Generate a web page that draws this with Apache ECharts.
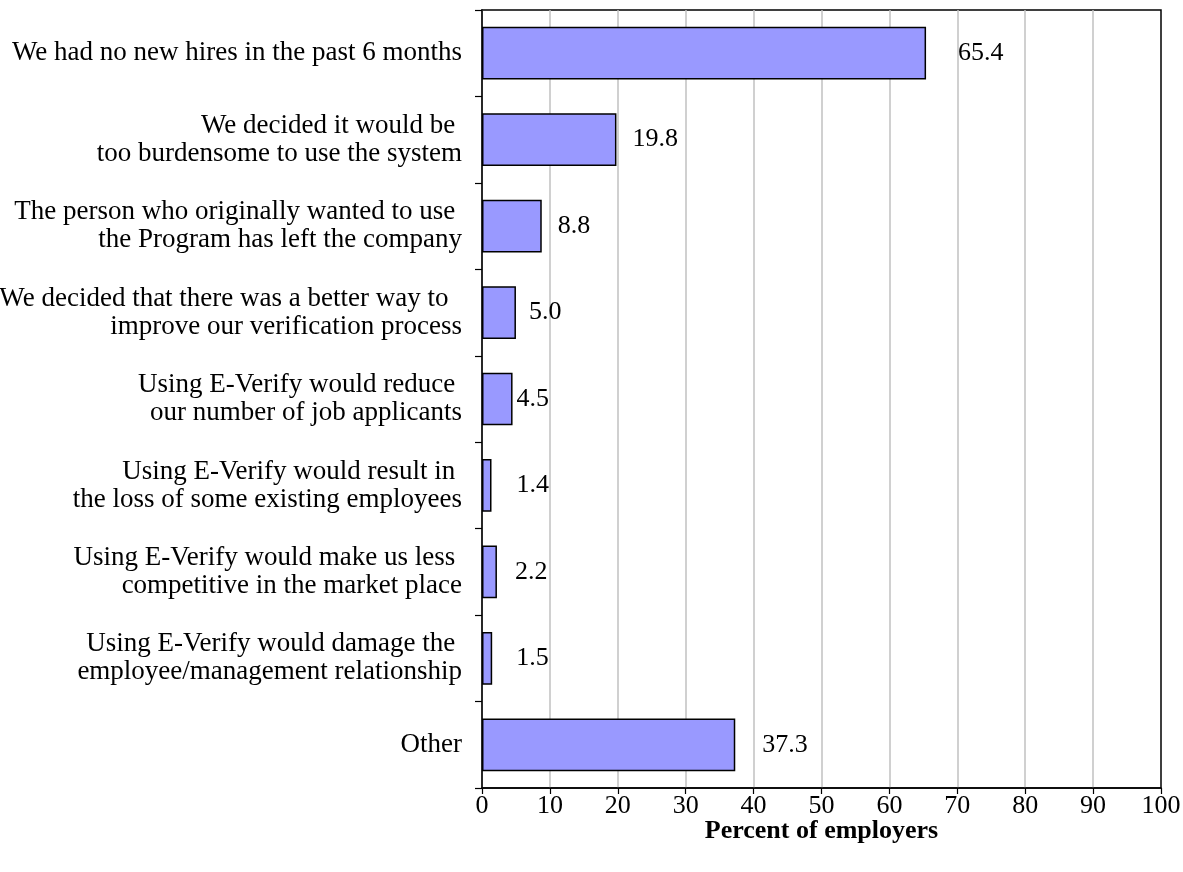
<!DOCTYPE html>
<html>
<head>
<meta charset="utf-8">
<script src="https://cdn.jsdelivr.net/npm/echarts@6/dist/echarts.min.js"></script>
<style>html,body{margin:0;padding:0;background:#fff}#c{width:1183px;height:872px}</style>
</head>
<body>
<div id="c"></div>
<script>
const categories = [
  "We had no new hires in the past 6 months",
  "We decided it would be \ntoo burdensome to use the system",
  "The person who originally wanted to use \nthe Program has left the company",
  "We decided that there was a better way to  \nimprove our verification process",
  "Using E-Verify would reduce \nour number of job applicants",
  "Using E-Verify would result in \nthe loss of some existing employees",
  "Using E-Verify would make us less \ncompetitive in the market place",
  "Using E-Verify would damage the \nemployee/management relationship",
  "Other"
];
const values = [65.4, 19.8, 8.8, 5.0, 4.5, 1.4, 2.2, 1.5, 37.3];
const xTicks = [0, 10, 20, 30, 40, 50, 60, 70, 80, 90, 100];
const labelGaps = [32, 16, 16, 13, 4, 25, 18, 24, 27];

const FONT = '"Liberation Serif", "Times New Roman", serif';
const chart = echarts.init(document.getElementById('c'), null, {renderer: 'canvas'});
chart.setOption({
  animation: false,
  backgroundColor: '#ffffff',
  grid: {left: 482, right: 22, top: 10, bottom: 84, containLabel: false, outerBoundsMode: 'none',
    show: true, borderColor: '#000', borderWidth: 1.5, backgroundColor: 'transparent'},
  xAxis: {
    type: 'value', min: xTicks[0], max: xTicks[xTicks.length - 1], interval: 10,
    name: 'Percent of employers', nameLocation: 'middle', nameGap: 30, nameMoveOverlap: false,
    nameTextStyle: {fontFamily: FONT, fontSize: 26, fontWeight: 'bold', color: '#000'},
    axisLine: {show: true, lineStyle: {color: '#000', width: 1.5}},
    axisTick: {show: true, length: 6, lineStyle: {color: '#000', width: 1.2}},
    axisLabel: {fontFamily: FONT, fontSize: 26, color: '#000', margin: 5},
    splitLine: {show: true, showMaxLine: false, lineStyle: {color: '#c0c0c0', width: 1.5}}
  },
  yAxis: {
    type: 'category', data: categories, inverse: true,
    axisLine: {show: true, lineStyle: {color: '#000', width: 1.5}},
    axisTick: {show: true, length: 7, lineStyle: {color: '#000', width: 1.2}},
    axisLabel: {fontFamily: FONT, fontSize: 27, lineHeight: 28, color: '#000', margin: 20, align: 'right'},
    splitLine: {show: false}
  },
  series: [{
    type: 'bar',
    data: values.map((v, i) => ({value: v, label: {distance: labelGaps[i]}})),
    barCategoryGap: '39%',
    itemStyle: {color: '#9999ff', borderColor: '#000', borderWidth: 1.5},
    label: {show: true, position: 'right', formatter: p => p.value.toFixed(1),
      fontFamily: FONT, fontSize: 26, color: '#000'}
  }]
});
</script>
</body>
</html>
